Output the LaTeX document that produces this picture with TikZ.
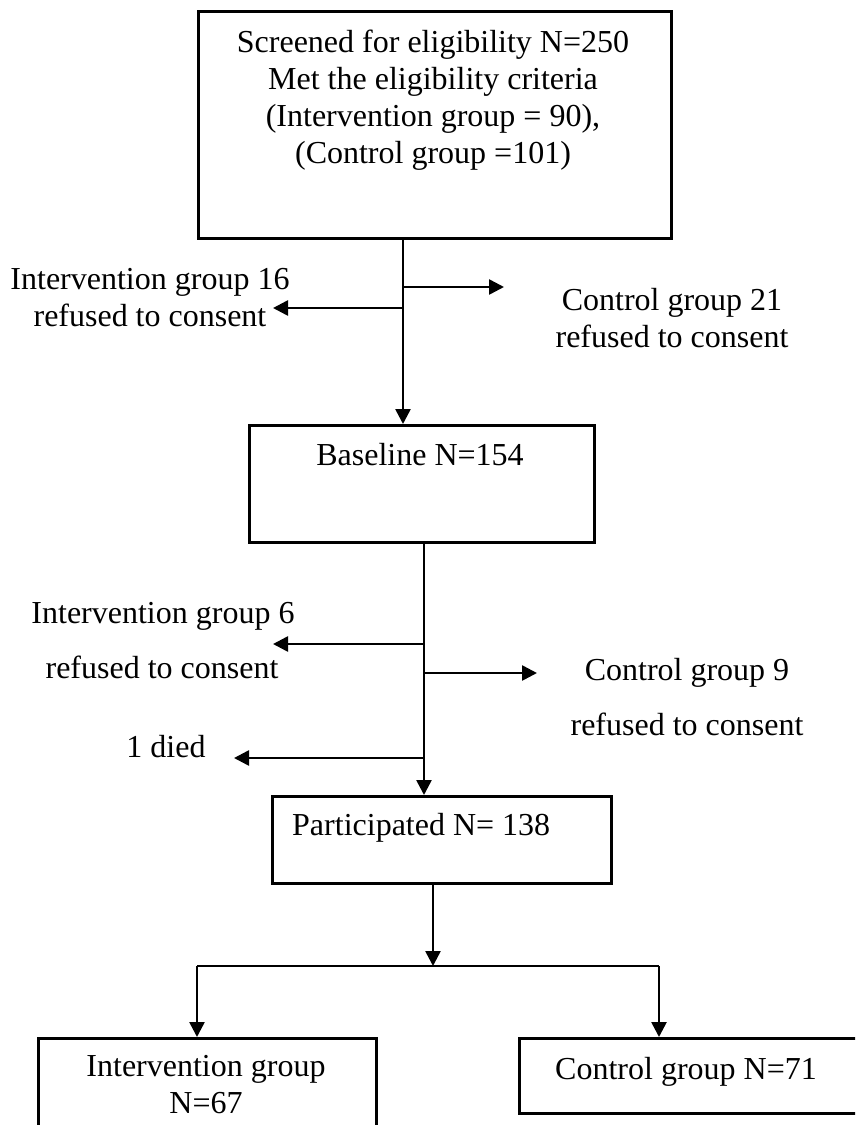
\documentclass[tikz,border=0pt]{standalone}
\usepackage{fontspec}
\setmainfont{Liberation Serif}
\usetikzlibrary{arrows.meta,positioning,calc}

\begin{document}
\begin{tikzpicture}
[x=1pt,y=-1pt,
every node/.style={font=\fontsize{32}{37}\selectfont,inner sep=0pt},
box/.style={draw=black,line width=2.6pt,rectangle,anchor=north west},
lbl/.style={anchor=base,align=center},
line/.style={line width=2.6pt},
arr/.style={line width=2.6pt,-{Triangle[length=15pt,width=15pt]}}]
\clip (0,0) rectangle (855,1125);
\node[box,minimum width=473,minimum height=227] (screen) at (197,10) {};
\node[box,minimum width=345,minimum height=117] (base) at (248,424) {};
\node[box,minimum width=339,minimum height=87] (part) at (271,795) {};
\node[box,minimum width=338,minimum height=120] (ig) at (37,1037) {};
\node[box,minimum width=360,minimum height=75] (cg) at (518,1037) {};
\node[lbl] (screentxt) at (433,163) {Screened for eligibility N=250\\Met the eligibility criteria\\(Intervention group = 90),\\(Control group =101)};
\node[lbl] (basetxt) at (420,465) {Baseline N=154};
\node[anchor=base west] (parttxt) at (292,835) {Participated N= 138};
\node[lbl] (igtxt) at (206,1113) {Intervention group\\N=67};
\node[lbl] (cgtxt) at (686,1079) {Control group N=71};
\node[lbl] (i16) at (150,326) {Intervention group 16\\refused to consent};
\node[lbl] (c21) at (672,347) {Control group 21\\refused to consent};
\node[lbl] (i6) at (163,623) {Intervention group 6};
\node[lbl] (i6r) at (162,678) {refused to consent};
\node[lbl] (c9) at (687,680) {Control group 9};
\node[lbl] (c9r) at (687,735) {refused to consent};
\node[lbl] (died) at (166,757) {1 died};
\coordinate (j1) at (403,237);
\coordinate (j2) at (424,541);
\coordinate (e21) at (504,287);
\coordinate (e16) at (273,308);
\coordinate (e6) at (273,644);
\coordinate (e9) at (537,673);
\coordinate (edied) at (234,758);
\coordinate (split) at (433,966);
\coordinate (sl) at (197,966);
\coordinate (sr) at (659,966);
\draw[arr] (screen.south -| j1) -- (base.north -| j1);
\draw[arr] (e21 -| j1) -- (e21);
\draw[arr] (e16 -| j1) -- (e16);
\draw[arr] (base.south -| j2) -- (part.north -| j2);
\draw[arr] (e6 -| j2) -- (e6);
\draw[arr] (e9 -| j2) -- (e9);
\draw[arr] (edied -| j2) -- (edied);
\draw[arr] (part.south -| split) -- (split);
\draw[line] (sl) -- (sr);
\draw[arr] (sl) -- (sl |- ig.north);
\draw[arr] (sr) -- (sr |- cg.north);
\end{tikzpicture}
\end{document}
